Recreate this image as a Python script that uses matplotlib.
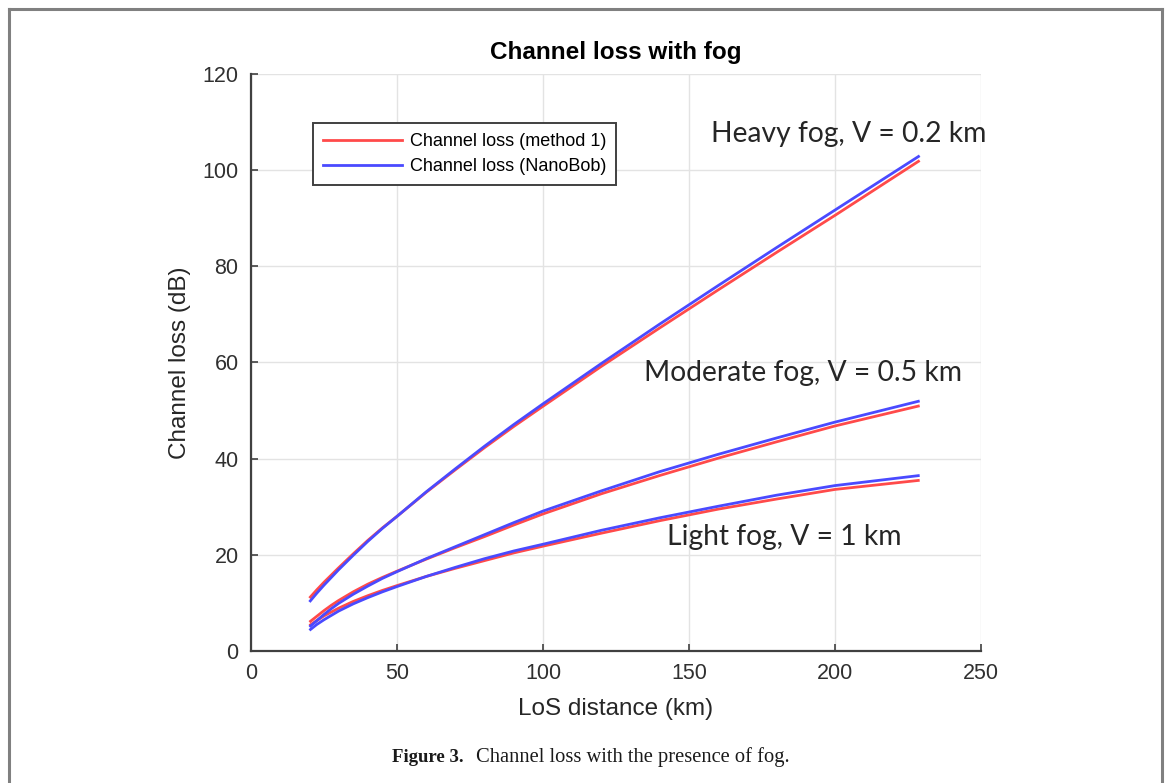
import matplotlib
matplotlib.use("Agg")
import matplotlib.pyplot as plt
from matplotlib.lines import Line2D

# ---- data ----
distance_km = [20, 22.5, 25, 27.5, 30, 35, 40, 45, 50, 60, 70, 80, 90, 100, 120, 140, 160, 180, 200, 229]

heavy_method1 = [11.0, 12.7, 14.3, 15.8, 17.3, 20.2, 23.0, 25.6, 28.0, 33.0, 37.7, 42.3, 46.7, 50.9, 59.2, 67.2, 75.1, 82.9, 90.6, 102.0]
heavy_nanobob = [10.2, 12.0, 13.7, 15.3, 16.9, 19.9, 22.8, 25.5, 28.0, 33.1, 37.9, 42.6, 47.1, 51.4, 59.8, 68.0, 76.0, 83.9, 91.7, 103.0]

moderate_method1 = [6.0, 7.2, 8.4, 9.5, 10.5, 12.3, 13.9, 15.3, 16.6, 19.1, 21.5, 23.8, 26.2, 28.5, 32.7, 36.5, 40.1, 43.5, 46.8, 51.0]
moderate_nanobob = [5.0, 6.3, 7.6, 8.8, 9.9, 11.8, 13.5, 15.1, 16.5, 19.2, 21.7, 24.2, 26.7, 29.1, 33.3, 37.3, 40.9, 44.3, 47.6, 52.0]

light_method1 = [5.3, 6.3, 7.3, 8.1, 8.9, 10.3, 11.5, 12.6, 13.6, 15.5, 17.2, 18.8, 20.4, 21.8, 24.5, 27.1, 29.5, 31.6, 33.6, 35.5]
light_nanobob = [4.3, 5.5, 6.5, 7.4, 8.3, 9.8, 11.1, 12.3, 13.4, 15.5, 17.4, 19.2, 20.8, 22.2, 25.1, 27.7, 30.1, 32.4, 34.4, 36.5]

x_ticks = [0, 50, 100, 150, 200, 250]
y_ticks = [0, 20, 40, 60, 80, 100, 120]

legend_labels = ["Channel loss (method 1)", "Channel loss (NanoBob)"]
annotations = [
    ("Heavy fog, V = 0.2 km", 157.5, 107.5),
    ("Moderate fog, V = 0.5 km", 134.5, 57.8),
    ("Light fog, V = 1 km", 142.5, 23.7),
]
title = "Channel loss with fog"
xlabel = "LoS distance (km)"
ylabel = "Channel loss (dB)"

# ---- style ----
red = "#ff4a4a"
blue = "#4a4aff"
axis_col = "#404040"

fig = plt.figure(figsize=(11.67, 7.83), dpi=100)
ax = fig.add_axes([0.2151, 0.1686, 0.6255, 0.7369])

lw = 2.0
for m1, nb in [(heavy_method1, heavy_nanobob),
               (moderate_method1, moderate_nanobob),
               (light_method1, light_nanobob)]:
    ax.plot(distance_km, m1, color=red, lw=lw, solid_capstyle="butt", zorder=3)
    ax.plot(distance_km, nb, color=blue, lw=lw, solid_capstyle="butt", zorder=4)

ax.set_xlim(0, 250)
ax.set_ylim(0, 120)
ax.set_xticks(x_ticks)
ax.set_yticks(y_ticks)
ax.grid(True, color="#e3e3e3", lw=1.0)
ax.set_axisbelow(True)
for s in ["top", "right"]:
    ax.spines[s].set_visible(False)
for s in ["left", "bottom"]:
    ax.spines[s].set_color(axis_col)
    ax.spines[s].set_linewidth(1.6)
ax.tick_params(direction="in", length=5, width=1.2, color=axis_col,
               labelcolor="#303030", labelsize=15.5, pad=9)
for lab in ax.get_xticklabels() + ax.get_yticklabels():
    lab.set_family("Liberation Sans")

ax.set_title(title, fontsize=17.5, fontweight="bold", family="Liberation Sans",
             color="black", pad=11)
ax.set_xlabel(xlabel, fontsize=17.5, family="Liberation Sans", color="#262626", labelpad=10)
ax.set_ylabel(ylabel, fontsize=17.5, family="Liberation Sans", color="#262626", labelpad=8)

handles = [Line2D([0], [0], color=red, lw=2), Line2D([0], [0], color=blue, lw=2)]
leg = ax.legend(handles, legend_labels, loc="upper left", bbox_to_anchor=(0.072, 0.93),
                fancybox=False, framealpha=1, edgecolor=axis_col,
                prop={"family": "Liberation Sans", "size": 13.0},
                handlelength=4.4, borderpad=0.55, labelspacing=0.45, handletextpad=0.45)
leg.get_frame().set_linewidth(1.4)

for text, xv, yv in annotations:
    ax.text(xv, yv, text, fontsize=20.3, family="Lato", color="#262626",
            ha="left", va="center", zorder=5)

# figure frame and caption
border = "#808080"
fig.add_artist(Line2D([0.0077, 0.0077], [0.0, 0.9885], color=border, lw=2.2))
fig.add_artist(Line2D([0.9957, 0.9957], [0.0, 0.9885], color=border, lw=2.2))
fig.add_artist(Line2D([0.0077, 0.9957], [0.9885, 0.9885], color=border, lw=2.2))

fig.text(0.336, 0.027, "Figure 3.", fontsize=13.5, fontweight="bold",
         family="Liberation Serif", ha="left", va="baseline", color="#1a1a1a")
fig.text(0.408, 0.027, "Channel loss with the presence of fog.", fontsize=14.8,
         family="Liberation Serif", ha="left", va="baseline", color="#1a1a1a")

fig.savefig("out.png", dpi=100)
